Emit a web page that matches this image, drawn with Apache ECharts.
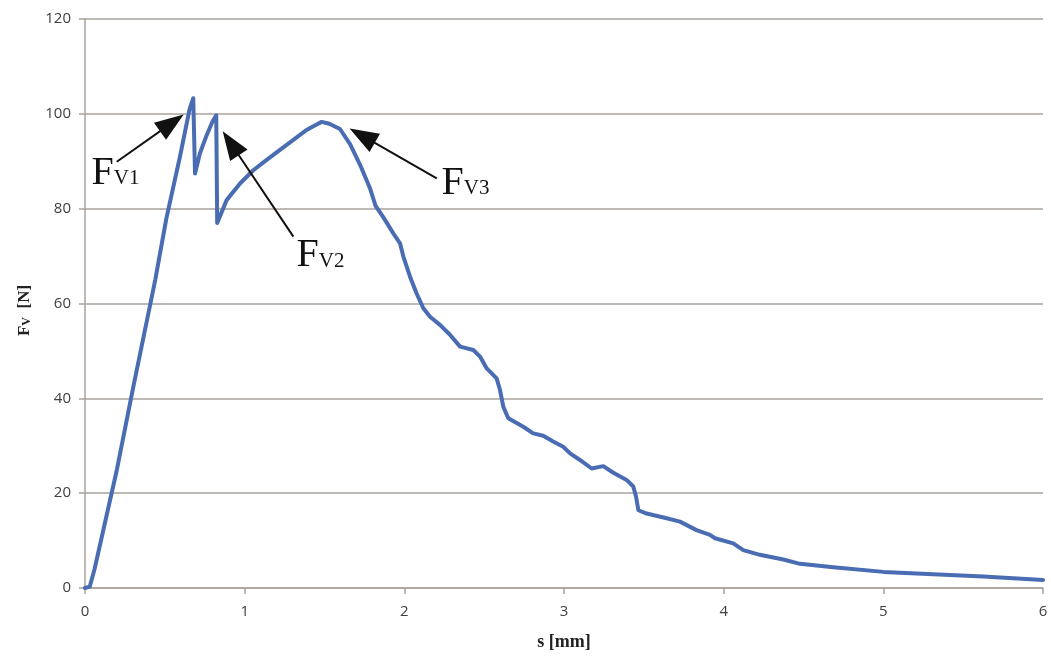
<!DOCTYPE html>
<html>
<head>
<meta charset="utf-8">
<script src="https://cdn.jsdelivr.net/npm/echarts@6/dist/echarts.min.js"></script>
<style>
html,body{margin:0;padding:0;background:#fff;}
#chart{width:1051px;height:658px;}
</style>
</head>
<body>
<div id="chart"></div>
<script>
// displacement s [mm]
const sValues = [0, 0.03, 0.06, 0.2, 0.3, 0.44, 0.51, 0.595, 0.655, 0.678, 0.689, 0.72, 0.762, 0.80, 0.822, 0.828,
  0.887, 0.971, 1.054, 1.138, 1.221, 1.305, 1.388, 1.43, 1.482, 1.53, 1.597, 1.66, 1.722, 1.785, 1.82, 1.87,
  1.931, 1.973, 1.994, 2.035, 2.077, 2.119, 2.161, 2.223, 2.286, 2.349, 2.432, 2.474, 2.516, 2.578, 2.599,
  2.620, 2.651, 2.745, 2.807, 2.870, 2.932, 2.995, 3.038, 3.100, 3.173, 3.246, 3.309, 3.392, 3.434, 3.451,
  3.466, 3.518, 3.643, 3.726, 3.830, 3.914, 3.946, 4.060, 4.123, 4.227, 4.373, 4.478, 4.687, 5.0, 5.313,
  5.626, 6.0];
// force F_V [N]
const fValues = [0, 0.3, 4, 25, 42, 65, 78, 91, 101, 103.3, 87.4, 91.7, 95.5, 98.5, 99.7, 77,
  81.8, 85.3, 88.1, 90.3, 92.4, 94.5, 96.6, 97.4, 98.3, 97.9, 96.8, 93.6, 89.3, 84.3, 80.6, 78.1,
  74.8, 72.7, 69.9, 65.7, 62.1, 59.0, 57.2, 55.5, 53.4, 50.9, 50.2, 48.8, 46.3, 44.2, 41.8,
  38.2, 35.8, 34.0, 32.6, 32.1, 30.9, 29.8, 28.4, 27.0, 25.2, 25.7, 24.3, 22.8, 21.4, 19.3,
  16.4, 15.7, 14.7, 14.0, 12.2, 11.2, 10.5, 9.4, 8.0, 7.0, 6.0, 5.1, 4.4, 3.4, 2.9,
  2.4, 1.7];

// annotation labels and arrows (data coordinates)
const annoLabels = ['V1', 'V2', 'V3'];
const annoTextAt = [[0.044, 83.1], [1.328, 65.8], [2.236, 81.0]];
const arrowTail = [[0.199, 89.9], [1.305, 74.1], [2.203, 86.4]];
const arrowEnd = [[0.544, 98.1], [0.913, 93.8], [1.736, 95.4]];

const xTicks = {min: 0, max: 6, interval: 1};
const yTicks = {min: 0, max: 120, interval: 20};

const data = sValues.map((s, i) => [s, fValues[i]]);

const chart = echarts.init(document.getElementById('chart'));
const gridColor = '#aaa29c';
const serif = "'Liberation Serif', 'DejaVu Serif', serif";
const sans = "'Open Sans', 'Liberation Sans', sans-serif";

chart.setOption({
  animation: false,
  backgroundColor: '#fff',
  grid: {left: 85, right: 8, top: 19, bottom: 70},
  xAxis: {
    type: 'value', min: xTicks.min, max: xTicks.max, interval: xTicks.interval,
    name: 's [mm]', nameLocation: 'middle', nameGap: 45,
    nameTextStyle: {fontFamily: serif, fontWeight: 'bold', fontSize: 18, color: '#222'},
    axisLine: {show: true, lineStyle: {color: gridColor, width: 1.5}},
    axisTick: {show: true, length: 6, lineStyle: {color: gridColor, width: 1.5}},
    axisLabel: {fontFamily: sans, fontSize: 15, color: '#404040', margin: 16},
    splitLine: {show: false}
  },
  yAxis: {
    type: 'value', min: yTicks.min, max: yTicks.max, interval: yTicks.interval,
    name: '{a|F}{b|V}{a|  [N]}', nameLocation: 'middle', nameGap: 52, nameRotate: 90,
    nameTextStyle: {
      padding: [0, 14, 0, 0],
      rich: {
        a: {fontFamily: serif, fontWeight: 'bold', fontSize: 17, color: '#222', verticalAlign: 'bottom', lineHeight: 20},
        b: {fontFamily: serif, fontWeight: 'bold', fontSize: 12, color: '#222', verticalAlign: 'bottom', lineHeight: 20}
      }
    },
    axisLine: {show: true, lineStyle: {color: gridColor, width: 1.5}},
    axisTick: {show: true, length: 6, lineStyle: {color: gridColor, width: 1.5}},
    axisLabel: {fontFamily: sans, fontSize: 15, color: '#404040', margin: 14},
    splitLine: {show: true, lineStyle: {color: gridColor, width: 1.5}}
  },
  series: [{
    type: 'line',
    data: data,
    showSymbol: false,
    symbol: 'none',
    lineStyle: {color: '#4a6cb3', width: 4, join: 'round', cap: 'round'},
    z: 3,
    markLine: {
      silent: true,
      symbol: ['none', 'triangle'],
      symbolSize: [21, 29],
      lineStyle: {color: '#111', width: 2, type: 'solid'},
      itemStyle: {color: '#111'},
      label: {show: false},
      emphasis: {disabled: true},
      data: arrowTail.map((t, i) => [{coord: t}, {coord: arrowEnd[i]}])
    }
  }, {
    type: 'scatter',
    silent: true,
    symbolSize: 1,
    itemStyle: {color: 'rgba(0,0,0,0)'},
    z: 5,
    data: annoLabels.map((n, i) => ({name: n, value: annoTextAt[i]})),
    label: {
      show: true,
      opacity: 1,
      position: [0, 0],
      align: 'left',
      verticalAlign: 'bottom',
      formatter: p => '{a|F}{b|' + p.name + '}',
      rich: {
        a: {fontFamily: serif, fontSize: 40, color: '#111', verticalAlign: 'bottom', lineHeight: 40},
        b: {fontFamily: serif, fontSize: 21, color: '#111', verticalAlign: 'bottom', lineHeight: 40, padding: [0, 0, 4, 0]}
      }
    }
  }]
});
</script>
</body>
</html>
